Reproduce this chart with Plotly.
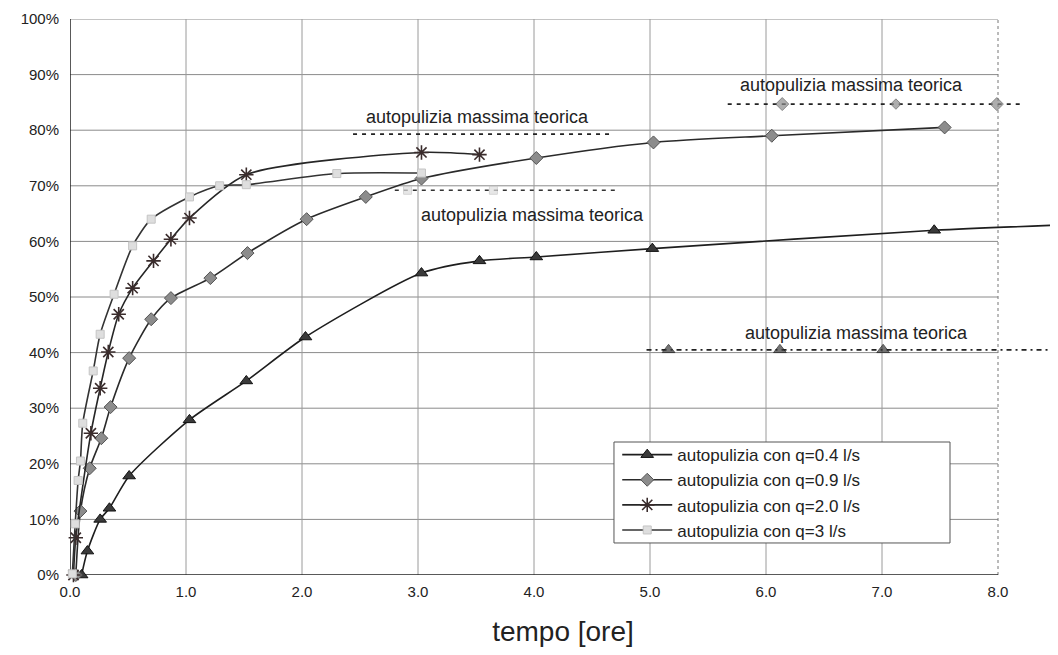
import plotly.graph_objects as go

# ---- data (time in hours, self-cleaning in %) ----
t_q04 = [0.10, 0.15, 0.26, 0.34, 0.51, 1.03, 1.52, 2.03, 3.03, 3.53, 4.02, 5.02, 7.45, 8.60]
v_q04 = [0.0, 4.3, 10.0, 12.0, 17.8, 27.9, 34.9, 42.8, 54.3, 56.5, 57.2, 58.7, 62.0, 63.0]

t_q09 = [0.05, 0.09, 0.17, 0.27, 0.35, 0.51, 0.70, 0.87, 1.21, 1.53, 2.04, 2.55, 3.03, 4.02, 5.03, 6.05, 7.54]
v_q09 = [0.0, 11.5, 19.2, 24.6, 30.2, 39.0, 46.0, 49.8, 53.4, 57.9, 64.0, 68.0, 71.3, 75.0, 77.8, 79.0, 80.5]

t_q20 = [0.03, 0.05, 0.18, 0.26, 0.33, 0.42, 0.54, 0.72, 0.87, 1.03, 1.52, 3.03, 3.53]
v_q20 = [0.0, 6.7, 25.5, 33.6, 40.1, 46.9, 51.6, 56.5, 60.4, 64.2, 72.0, 76.0, 75.6]

t_q3 = [0.02, 0.045, 0.07, 0.09, 0.11, 0.20, 0.26, 0.38, 0.54, 0.70, 1.03, 1.29, 1.52, 2.30, 3.03]
v_q3 = [0.2, 9.2, 17.0, 20.5, 27.3, 36.7, 43.3, 50.5, 59.2, 64.0, 68.0, 70.0, 70.2, 72.2, 72.3]

# theoretical maxima
th_q04_t = [4.97, 5.16, 6.12, 7.01, 8.50]
th_q04_v = [40.5, 40.5, 40.5, 40.5, 40.5]
th_q09_t = [5.67, 6.14, 7.12, 7.99, 8.20]
th_q09_v = [84.7, 84.7, 84.7, 84.7, 84.7]
th_q20_t = [2.44, 4.67]
th_q20_v = [79.3, 79.3]
th_q3_t = [2.80, 2.91, 3.65, 4.72]
th_q3_v = [69.2, 69.2, 69.2, 69.2]

names = ["autopulizia con q=0.4 l/s", "autopulizia con q=0.9 l/s",
         "autopulizia con q=2.0 l/s", "autopulizia con q=3 l/s"]
label_text = "autopulizia massima teorica"
label_pos_t = [3.51, 3.99, 6.74, 6.78]
label_pos_v = [82.4, 64.7, 88.1, 43.5]

x_ticks = [0, 1, 2, 3, 4, 5, 6, 7, 8]
y_ticks = [0, 10, 20, 30, 40, 50, 60, 70, 80, 90, 100]

FONT = "Liberation Sans, Arial, sans-serif"

fig = go.Figure()

# gridlines / frame (limited to 0..8 h)
for yv in y_ticks[1:]:
    fig.add_shape(type="line", xref="x", yref="y", x0=0, x1=8, y0=yv, y1=yv,
                  line=dict(color="#8a8a8a", width=1), layer="below")
for xv in x_ticks[1:-1]:
    fig.add_shape(type="line", xref="x", yref="y", x0=xv, x1=xv, y0=0, y1=100,
                  line=dict(color="#9a9a9a", width=1), layer="below")
fig.add_shape(type="line", xref="x", yref="y", x0=8, x1=8, y0=0, y1=100,
              line=dict(color="#777", width=1, dash="dot"), layer="below")
fig.add_shape(type="line", xref="x", yref="y", x0=0, x1=8, y0=0, y1=0,
              line=dict(color="#222", width=1.5), layer="below")
fig.add_shape(type="line", xref="x", yref="y", x0=0, x1=0, y0=0, y1=100,
              line=dict(color="#222", width=1.5), layer="below")

# legend frame
fig.add_shape(type="rect", xref="paper", yref="paper", x0=0.5517, x1=0.8925,
              y0=0.0576, y1=0.2392, fillcolor="white",
              line=dict(color="#555", width=1), layer="above")

line_kw = dict(shape="spline", smoothing=0.7, width=1.6)

fig.add_trace(go.Scatter(x=t_q04, y=v_q04, mode="lines+markers", name=names[0],
                         line=dict(color="#1e1e1e", **line_kw), cliponaxis=False,
                         marker=dict(symbol="triangle-up", size=11, color="#3a3a3a",
                                     line=dict(color="#111", width=1))))
fig.add_trace(go.Scatter(x=t_q09, y=v_q09, mode="lines+markers", name=names[1],
                         line=dict(color="#2a2a2a", **line_kw), cliponaxis=False,
                         marker=dict(symbol="diamond", size=10, color="#8c8c8c",
                                     line=dict(color="#555", width=1))))
fig.add_trace(go.Scatter(x=t_q20, y=v_q20, mode="lines+markers", name=names[2],
                         line=dict(color="#262626", **line_kw), cliponaxis=False,
                         marker=dict(symbol="asterisk", size=12, color="#3a2c2c",
                                     line=dict(color="#3a2c2c", width=1.6))))
fig.add_trace(go.Scatter(x=t_q3, y=v_q3, mode="lines+markers", name=names[3],
                         line=dict(color="#333", **line_kw), cliponaxis=False,
                         marker=dict(symbol="square", size=8, color="#dedede",
                                     line=dict(color="#c4c4c4", width=1))))

# theoretical maximum lines
fig.add_trace(go.Scatter(x=th_q04_t, y=th_q04_v, mode="lines+markers", showlegend=False,
                         line=dict(color="#222", width=1.8, dash="5px,4px,2px,4px"),
                         cliponaxis=False,
                         marker=dict(symbol="triangle-up", size=[0, 11, 11, 11, 0],
                                     color="#3a3a3a", line=dict(color="#111", width=1))))
fig.add_trace(go.Scatter(x=th_q09_t, y=th_q09_v, mode="lines+markers", showlegend=False,
                         line=dict(color="#222", width=1.8, dash="4px,5px"),
                         cliponaxis=False,
                         marker=dict(symbol="diamond", size=[0, 10, 8, 10, 0],
                                     color="#8c8c8c", line=dict(color="#555", width=1))))
fig.add_trace(go.Scatter(x=th_q20_t, y=th_q20_v, mode="lines", showlegend=False,
                         line=dict(color="#222", width=1.8, dash="4px,5px")))
fig.add_trace(go.Scatter(x=th_q3_t, y=th_q3_v, mode="lines+markers", showlegend=False,
                         line=dict(color="#333", width=1.6, dash="4px,5px"),
                         cliponaxis=False,
                         marker=dict(symbol="square", size=[0, 8, 8, 0], color="#dedede",
                                     line=dict(color="#c4c4c4", width=1))))

for tx, vy in zip(label_pos_t, label_pos_v):
    fig.add_annotation(x=tx, y=vy, xref="x", yref="y", text=label_text, showarrow=False,
                       font=dict(family=FONT, size=18, color="#222"))

fig.update_layout(
    width=1058, height=655,
    margin=dict(l=62, r=10, t=11, b=88),
    paper_bgcolor="white", plot_bgcolor="white",
    font=dict(family=FONT, color="#222"),
    showlegend=True,
    legend=dict(x=0.555, y=0.248, xanchor="left", yanchor="top",
                bgcolor="rgba(0,0,0,0)", borderwidth=0,
                font=dict(family=FONT, size=17, color="#222"),
                itemwidth=50, tracegroupgap=0),
    xaxis=dict(range=[0, 8.5], tickvals=x_ticks, ticktext=[f"{v:.1f}" for v in x_ticks],
               showgrid=False, zeroline=False, showline=False, ticks="",
               automargin=False, ticklabelstandoff=6,
               tickfont=dict(family=FONT, size=15, color="#222"),
               title=dict(text="tempo [ore]", font=dict(family=FONT, size=28, color="#222"),
                          standoff=22)),
    yaxis=dict(range=[0, 100], tickvals=y_ticks, ticktext=[f"{v}%" for v in y_ticks],
               showgrid=False, zeroline=False, showline=False, ticks="",
               automargin=False, ticklabelstandoff=10,
               tickfont=dict(family=FONT, size=15, color="#222")),
)

fig.write_html("out.html")
